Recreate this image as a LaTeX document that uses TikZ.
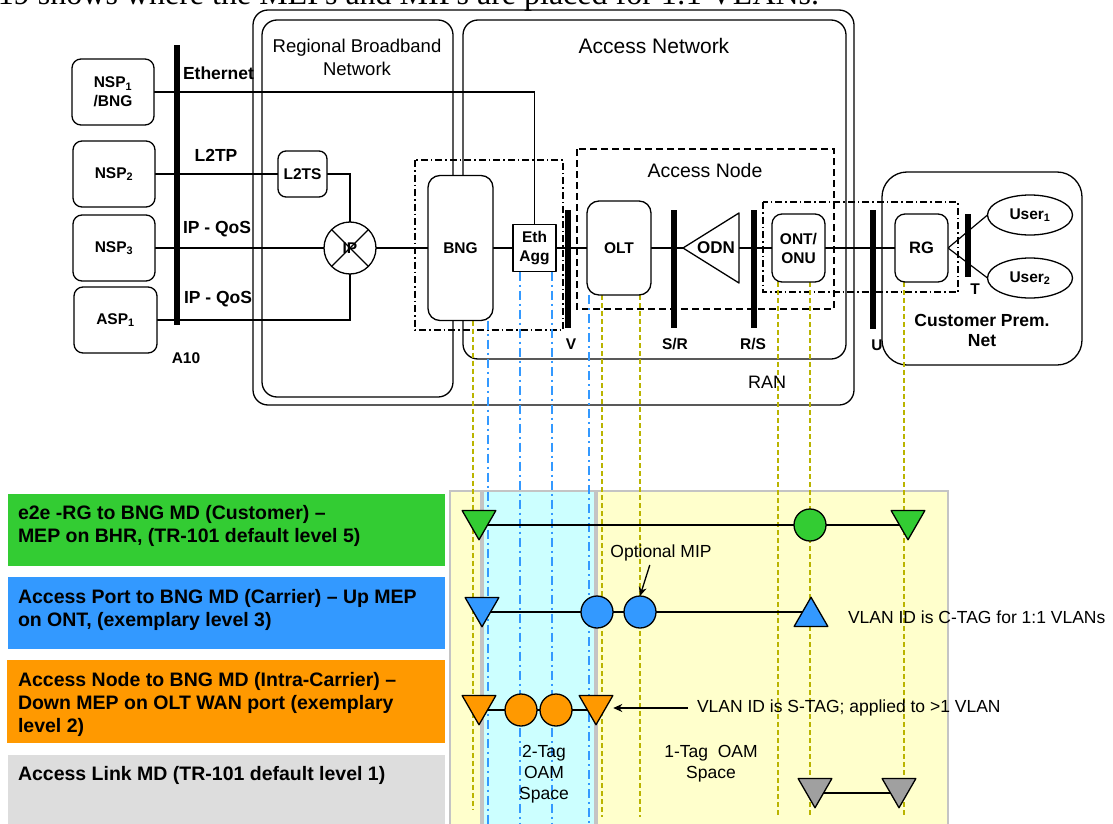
\documentclass[tikz,border=0pt]{standalone}
\usepackage{fontspec}
\setmainfont{Liberation Sans}
\newfontfamily\bodyserif{Liberation Serif}
\usetikzlibrary{shapes.geometric,arrows.meta}
\pgfdeclarelayer{panels}
\pgfdeclarelayer{wires}
\pgfsetlayers{panels,wires,main}
\newcommand\fsz[2]{\fontsize{#1}{#2}\selectfont}

\definecolor{mdgreen}{HTML}{33CC33}
\definecolor{mdblue}{HTML}{3399FF}
\definecolor{mdorange}{HTML}{FF9900}
\definecolor{mdgrey}{HTML}{DDDDDD}
\definecolor{mepgrey}{HTML}{A0A0A0}
\definecolor{paleyellow}{HTML}{FFFFCC}
\definecolor{palecyan}{HTML}{CCFFFF}
\definecolor{panelrim}{HTML}{C4C4C4}
\definecolor{tracegold}{HTML}{BAB400}

\tikzset{
  wire/.style={line width=1.2pt},
  box/.style={draw, line width=1.3pt, rounded corners=9pt, fill=white, align=center,
    font=\fsz{15.5}{19}\bfseries},
  plainbox/.style={draw, line width=1.3pt, fill=white, align=center,
    font=\fsz{15.5}{19}\bfseries},
  region/.style={line width=1.3pt, rounded corners=15pt},
  dashdotbox/.style={line width=1.2pt, dash pattern=on 7pt off 3pt on 1.5pt off 3pt},
  dashbox/.style={line width=1.2pt, dash pattern=on 7pt off 4pt},
  ifname/.style={font=\fsz{17.5}{21}\bfseries},
  barname/.style={font=\fsz{15.5}{18}\bfseries},
  goldtrace/.style={tracegold, line width=1.8pt, dash pattern=on 5pt off 3pt},
  bluetrace/.style={mdblue, line width=2pt, dash pattern=on 9pt off 4pt on 2pt off 4pt},
  legend/.style={anchor=north west, align=left, font=\fsz{19.5}{23.3}\bfseries},
  note/.style={font=\fsz{17.5}{21}},
  mep/.style={regular polygon, regular polygon sides=3, minimum size=39pt, draw,
    line width=1.3pt},
  mepdown/.style={mep, shape border rotate=180},
  mip/.style={circle, draw, line width=1.3pt, minimum size=32pt},
  user/.style={ellipse, draw, line width=1.3pt, fill=white, minimum width=85pt,
    minimum height=40pt, font=\fsz{15.5}{18}\bfseries},
  pointer/.style={line width=1.3pt, -{Stealth[length=9pt,width=8pt]}}
}

\begin{document}
\begin{tikzpicture}[x=1pt, y=-1pt, line join=round,
  every node/.style={inner sep=0pt, outer sep=0pt}]
\useasboundingbox (0,0) rectangle (1113,824);
\clip (0,0) rectangle (1113,824);

% running text above the figure
\node[anchor=base west, font=\bodyserif\fsz{32}{36}] (caption) at (-2,5)
  {19 shows where the MEPs and MIPs are placed for 1:1 VLANs.};

% ---------------- access architecture ----------------
% interface bars
\fill (173.5,45) rectangle (179.5,325);
\fill (564.5,210) rectangle (570.5,328);
\fill (670.5,210) rectangle (676.5,328);
\fill (750.5,210) rectangle (756.5,328);
\fill (869.5,210) rectangle (875.5,329);
\fill (964.5,214) rectangle (970.5,277);

\node[barname] (lblA) at (186,358) {A10};
\node[barname] (lblV) at (571,344) {V};
\node[barname] (lblSR) at (675,344) {S/R};
\node[barname] (lblRS) at (753,344) {R/S};
\node[barname] (lblT) at (975,289) {T};

% end-point boxes
\node[box, minimum width=82pt, minimum height=66pt] (nsp1) at (113,92) {NSP\textsubscript{1}\\/BNG};
\node[box, minimum width=82pt, minimum height=66pt] (nsp2) at (114,174) {NSP\textsubscript{2}};
\node[box, minimum width=82pt, minimum height=66pt] (nsp3) at (114,248) {NSP\textsubscript{3}};
\node[box, minimum width=83pt, minimum height=66pt] (asp1) at (115.5,320) {ASP\textsubscript{1}};

\node[ifname, anchor=west] (lEth) at (183,73) {Ethernet};
\node[ifname] (lL2tp) at (216,155) {L2TP};
\node[ifname, anchor=west] (lQos1) at (183,229) {IP - QoS};
\node[ifname, anchor=west] (lQos2) at (184,299) {IP - QoS};

% network elements
\node[box, rounded corners=8pt, minimum width=49pt, minimum height=46pt] (l2ts) at (302.5,174) {L2TS};
\node[circle, draw, line width=1.3pt, fill=white, minimum size=52pt,
  font=\fsz{15.5}{18}\bfseries,
  path picture={\draw[line width=1.2pt]
    (path picture bounding box.north west) -- (path picture bounding box.south east)
    (path picture bounding box.north east) -- (path picture bounding box.south west);}]
  (ip) at (350,248) {IP};
\node[box, rounded corners=12pt, minimum width=65pt, minimum height=145pt] (bng) at (460.5,248) {BNG};
\node[plainbox, minimum width=43pt, minimum height=47pt] (ethagg) at (534.5,248) {Eth\\Agg};
\node[box, rounded corners=12pt, minimum width=64pt, minimum height=94pt] (olt) at (619,248) {OLT};

% optical distribution network: splitter triangle pointing to the OLT
\coordinate (odnTip) at (683,248);
\coordinate (odnBase) at (739,248);
\draw[line width=1.3pt, fill=white] (odnTip) -- (739,213) -- (739,283) -- cycle;
\node[font=\fsz{17}{20}\bfseries] (odn) at (716,248) {ODN};

\node[box, rounded corners=10pt, minimum width=53pt, minimum height=68pt] (ont) at (798.5,248) {ONT/\\ONU};
\node[box, rounded corners=10pt, minimum width=53pt, minimum height=68pt, font=\fsz{16.5}{19}\bfseries] (rg) at (921.5,248) {RG};
\node[user] (user1) at (1030,215) {User\textsubscript{1}};
\node[user] (user2) at (1030,278) {User\textsubscript{2}};

\begin{pgfonlayer}{panels}
  % interface name partly hidden under the customer premises frame
  \node[barname] (lblU) at (877,345) {U};
  \draw[region, rounded corners=25pt, fill=white] (882,172) rectangle (1082,365);
\end{pgfonlayer}

\node[font=\fsz{17.5}{20}\bfseries, align=center] (cpn) at (982,330) {Customer Prem.\\Net};

\begin{pgfonlayer}{wires}
  % domain frames
  \draw[region] (253,10) rectangle (854,405);
  \draw[region] (262,20) rectangle (453,397);
  \draw[region] (463,20) rectangle (846,359);
  \draw[dashdotbox] (415,160) rectangle (563,330);
  \draw[dashbox] (577,149) rectangle (834,309);
  \draw[dashdotbox] (763,202) rectangle (958,292);

  % links
  \draw[wire] (nsp1.east) -- (nsp1.east -| ethagg.north) -- (ethagg.north);
  \draw[wire] (nsp2.east) -- (l2ts.west);
  \draw[wire] (l2ts.east) -| (ip.north);
  \draw[wire] (nsp3.east) -- (ip.west);
  \draw[wire] (asp1.east) -| (ip.south);
  \draw[wire] (ip.east) -- (bng.west);
  \draw[wire] (bng.east) -- (ethagg.west);
  \draw[wire] (ethagg.east) -- (olt.west);
  \draw[wire] (olt.east) -- (odnTip);
  \draw[wire] (odnBase) -- (ont.west);
  \draw[wire] (ont.east) -- (rg.west);
  \draw[wire] (rg.east) -- (user1.west);
  \draw[wire] (rg.east) -- (user2.west);
\end{pgfonlayer}

\node[font=\fsz{18.5}{23}, align=center] (rbn) at (357,57.5) {Regional Broadband\\Network};
\node[font=\fsz{21}{24}] (an) at (654,46) {Access Network};
\node[font=\fsz{19.5}{22}] (anode) at (705,171) {Access Node};
\node[font=\fsz{18}{21}] (ran) at (767,382) {RAN};

% ---------------- maintenance domains ----------------
\begin{pgfonlayer}{panels}
  \filldraw[fill=paleyellow, draw=panelrim, line width=1.5pt] (450,491) rectangle (481,830);
  \filldraw[fill=palecyan, draw=panelrim, line width=1.5pt] (483,491) rectangle (595,830);
  \filldraw[fill=paleyellow, draw=panelrim, line width=1.5pt] (597,491) rectangle (948,830);
  \fill[mdgreen] (8,494) rectangle (445,566);
  \fill[mdblue] (8,577) rectangle (445,649);
  \fill[mdorange] (7,660) rectangle (445,743);
  \fill[mdgrey] (8,755) rectangle (445,830);
\end{pgfonlayer}

\node[legend] (lgGreen) at (18,505) {e2e -RG to BNG MD (Customer) --\\MEP on BHR, (TR-101 default level 5)};
\node[legend] (lgBlue) at (18,589) {Access Port to BNG MD (Carrier) -- Up MEP\\on ONT, (exemplary level 3)};
\node[legend] (lgOrange) at (18,672) {Access Node to BNG MD (Intra-Carrier) --\\Down MEP on OLT WAN port (exemplary\\level 2)};
\node[legend] (lgGrey) at (18,766) {Access Link MD (TR-101 default level 1)};

% end points of the drop lines
\coordinate (dBng) at (473,810);
\coordinate (dOltA) at (602,817);
\coordinate (dOltB) at (640,817);
\coordinate (dOntA) at (778,817);
\coordinate (dOntB) at (810,817);
\coordinate (dRg) at (904,817);
\coordinate (bBng) at (488,824);
\coordinate (bAggA) at (520,824);
\coordinate (bAggB) at (552,824);
\coordinate (bOlt) at (589,824);
\coordinate (rowGrey) at (857,793);

% MEPs and MIPs, one row per domain
\node[mepdown, fill=mdgreen] (gt1) at (479,520.25) {};
\node[mip, fill=mdgreen] (gc) at (810,525) {};
\node[mepdown, fill=mdgreen] (gt2) at (908,520.25) {};

\node[mepdown, fill=mdblue] (bt1) at (482,607.25) {};
\node[mip, fill=mdblue] (bc1) at (597,612) {};
\node[mip, fill=mdblue] (bc2) at (640,612) {};
\node[mep, fill=mdblue] (bt2) at (811,616.75) {};

\node[mepdown, fill=mdorange] (ot1) at (479,705.25) {};
\node[mip, fill=mdorange] (oc1) at (521,710) {};
\node[mip, fill=mdorange] (oc2) at (556,710) {};
\node[mepdown, fill=mdorange] (ot2) at (596,705.25) {};

\node[mepdown, fill=mepgrey] (rt1) at (815,788.25) {};
\node[mepdown, fill=mepgrey] (rt2) at (899,788.25) {};

\node[note] (optmip) at (661,553) {Optional MIP};
\node[note, anchor=west] (ctag) at (848,617) {VLAN ID is C-TAG for 1:1 VLANs};
\node[note, anchor=west] (stag) at (697,708) {VLAN ID is S-TAG; applied to >1 VLAN};
\node[note, align=center] (twotag) at (544,774) {2-Tag\\OAM\\Space};
\node[note, align=center] (onetag) at (711,763.5) {1-Tag\ \ OAM\\Space};

\draw[pointer, shorten <=4pt] ([xshift=-10pt]optmip.south) -- (bc2.north);
\draw[pointer, shorten >=6pt] ([xshift=-9pt]stag.west) -- (stag.west -| ot2.east);

\begin{pgfonlayer}{wires}
  % drop lines from the network elements
  \draw[goldtrace] (bng.south -| dBng) -- (dBng);
  \draw[goldtrace] (olt.south -| dOltA) -- (dOltA);
  \draw[goldtrace] (olt.south -| dOltB) -- (dOltB);
  \draw[goldtrace] (ont.south -| dOntA) -- (dOntA);
  \draw[goldtrace] (ont.south -| dOntB) -- (dOntB);
  \draw[goldtrace] (rg.south -| dRg) -- (dRg);
  \draw[bluetrace] (bng.south -| bBng) -- (bBng);
  \draw[bluetrace] (ethagg.south -| bAggA) -- (bAggA);
  \draw[bluetrace] (ethagg.south -| bAggB) -- (bAggB);
  \draw[bluetrace] (olt.south -| bOlt) -- (bOlt);

  % domain lines between the end points
  \draw[wire] (gt1.center |- gc) -- (gc) -- (gc -| gt2.center);
  \draw[wire] (bt1.center |- bc1) -- (bc1) -- (bc2) -- (bc2 -| bt2.center);
  \draw[wire] (ot1.center |- oc1) -- (oc1) -- (oc2) -- (oc2 -| ot2.center);
  \draw[wire] (rt1.center |- rowGrey) -- (rowGrey) -- (rowGrey -| rt2.center);
\end{pgfonlayer}
\end{tikzpicture}
\end{document}
